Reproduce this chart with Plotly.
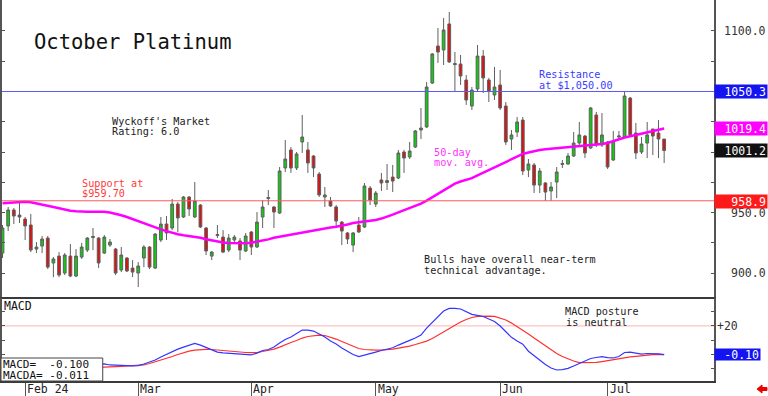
import plotly.graph_objects as go
import pandas as pd

W, H = 768, 396
FONT = "DejaVu Sans Mono"

# ---------------- data ----------------
holidays = ["2024-02-19", "2024-03-29", "2024-05-27", "2024-06-19", "2024-07-04"]
dates = [d.strftime("%Y-%m-%d") for d in pd.bdate_range("2024-01-26", "2024-07-16")
         if d.strftime("%Y-%m-%d") not in holidays]

opens = [916.5, 938.9, 952.1, 947.9, 944.6, 939.7, 919.8, 922.3, 928.9, 908.3,
         914.0, 900.0, 914.0, 897.5, 913.2, 919.0, 929.3, 928.9, 916.5, 923.1,
         919.8, 902.5, 912.4, 904.1, 900.0, 912.4, 921.5, 904.1, 927.3, 940.5,
         937.2, 957.0, 946.3, 962.8, 946.3, 956.2, 937.2, 914.0, 931.0, 929.7,
         919.0, 927.3, 926.5, 918.2, 933.9, 921.5, 946.3, 961.6, 954.6, 949.6,
         986.8, 1001.7, 986.8, 1008.3, 1001.7, 996.7, 981.8, 962.8, 959.5, 954.6,
         942.1, 933.1, 923.1, 939.7, 938.0, 970.2, 957.0, 976.9, 974.8, 979.3,
         978.5, 1000.0, 995.9, 1004.1, 1018.2, 1020.7, 1057.0, 1087.6, 1084.3, 1105.8,
         1073.1, 1072.7, 1059.5, 1038.0, 1052.1, 1079.3, 1059.5, 1047.1, 1055.4, 1038.0,
         1010.7, 1016.5, 1026.4, 985.1, 989.3, 972.7, 974.4, 967.8, 975.2, 989.7,
         990.1, 996.7, 1007.4, 1013.2, 1003.3, 1030.6, 1005.8, 1008.3, 993.4, 1012.4,
         1012.4, 1044.6, 1015.7, 1000.0, 1007.4, 1019.0, 1015.7, 1010.7]

highs = [939.7, 954.6, 953.7, 958.7, 946.3, 948.8, 925.6, 930.6, 930.6, 913.2,
         917.3, 916.5, 924.0, 919.8, 924.8, 929.7, 937.2, 929.7, 931.4, 928.1,
         920.7, 921.5, 913.2, 910.7, 909.1, 923.1, 922.3, 933.1, 946.3, 947.1,
         961.2, 958.7, 963.6, 963.6, 975.2, 957.0, 938.0, 918.2, 939.7, 935.5,
         932.2, 931.4, 928.9, 933.1, 934.7, 950.4, 960.3, 968.6, 955.4, 987.6,
         1009.9, 1004.1, 1000.0, 1030.6, 1008.3, 997.5, 983.5, 971.1, 962.8, 956.2,
         943.0, 933.9, 933.9, 946.3, 974.4, 971.9, 967.8, 982.7, 990.1, 989.3,
         1001.7, 1001.7, 1008.3, 1018.2, 1036.4, 1057.9, 1081.8, 1102.5, 1110.7, 1115.7,
         1082.6, 1080.2, 1063.6, 1053.7, 1088.4, 1084.3, 1061.2, 1070.3, 1067.8, 1041.3,
         1018.2, 1028.9, 1028.9, 994.2, 990.9, 986.8, 975.2, 975.2, 987.6, 993.4,
         999.2, 1016.5, 1024.8, 1014.1, 1037.2, 1033.1, 1032.2, 1009.1, 1017.4, 1017.4,
         1049.6, 1045.5, 1024.0, 1012.4, 1024.8, 1019.0, 1026.4, 1010.7]

lows = [912.4, 934.7, 940.5, 941.3, 927.3, 917.3, 916.5, 916.5, 903.3, 896.6,
        896.6, 898.3, 896.6, 896.6, 911.6, 917.3, 919.0, 904.1, 915.7, 921.5,
        898.3, 900.8, 900.8, 896.6, 888.4, 904.9, 903.3, 903.3, 925.6, 927.3,
        935.5, 933.9, 945.5, 947.1, 945.5, 937.2, 914.9, 910.7, 928.9, 916.5,
        917.3, 925.6, 910.7, 917.3, 914.9, 920.7, 937.2, 956.2, 937.2, 948.8,
        983.5, 982.7, 985.1, 999.2, 982.7, 979.3, 962.8, 954.6, 954.6, 938.0,
        923.1, 924.0, 917.3, 933.1, 937.2, 956.2, 954.6, 967.8, 968.6, 966.9,
        977.7, 982.7, 994.2, 1003.3, 1010.7, 1019.8, 1056.2, 1073.6, 1071.9, 1073.6,
        1050.4, 1055.4, 1038.9, 1034.7, 1049.6, 1048.8, 1041.3, 1043.0, 1034.7, 1005.8,
        1001.7, 1012.4, 981.0, 979.3, 966.1, 966.1, 959.5, 959.5, 962.0, 986.8,
        989.3, 995.9, 1005.8, 995.0, 1002.5, 1004.1, 1004.1, 986.0, 992.6, 1009.9,
        1011.6, 1012.4, 994.2, 998.4, 995.0, 997.5, 995.0, 990.9]

closes = [937.2, 952.1, 947.1, 946.3, 938.9, 919.0, 921.5, 928.1, 904.9, 911.6,
          898.3, 914.9, 897.5, 914.0, 921.5, 928.9, 930.2, 908.3, 929.7, 925.6,
          900.0, 914.9, 901.7, 900.8, 905.8, 921.5, 904.9, 932.2, 940.5, 933.1,
          957.0, 945.5, 962.8, 952.9, 959.5, 938.0, 918.2, 917.3, 931.8, 917.3,
          928.9, 929.7, 919.0, 930.6, 921.5, 942.1, 954.6, 962.4, 950.4, 984.3,
          994.2, 986.8, 998.4, 1012.4, 990.9, 986.8, 964.5, 964.5, 955.4, 943.0,
          934.7, 928.1, 933.1, 933.9, 971.9, 960.3, 966.1, 974.4, 976.4, 976.0,
          999.2, 995.0, 1000.8, 1017.4, 1019.8, 1053.7, 1081.0, 1082.6, 1100.8, 1074.4,
          1072.3, 1062.8, 1043.0, 1051.2, 1079.3, 1061.2, 1050.4, 1053.7, 1036.4, 1008.3,
          1014.1, 1024.8, 984.3, 990.1, 972.7, 984.3, 966.9, 971.1, 983.5, 990.5,
          996.7, 1007.4, 1014.1, 999.2, 1036.4, 1005.8, 1014.1, 987.6, 1009.1, 1013.2,
          1046.3, 1014.1, 999.2, 1006.6, 1014.1, 1013.2, 1010.7, 1001.2]

ma50 = [957.6, 958.0, 958.5, 958.8, 958.9, 958.4, 957.6, 956.6, 955.6, 954.6,
        953.6, 952.5, 951.5, 951.1, 950.7, 950.6, 950.6, 950.7, 950.7, 950.0,
        949.0, 947.8, 946.3, 944.5, 942.8, 941.1, 939.4, 937.8, 936.1, 934.6,
        933.2, 932.0, 931.2, 930.7, 930.1, 929.2, 927.9, 926.9, 926.0, 925.3,
        924.9, 924.6, 924.5, 924.6, 925.1, 925.8, 926.6, 927.8, 929.1, 930.0,
        930.7, 931.3, 932.3, 933.2, 934.1, 935.0, 935.9, 936.9, 937.6, 938.3,
        938.9, 940.1, 941.3, 941.8, 942.3, 943.0, 943.9, 945.0, 946.4, 948.3,
        950.1, 952.0, 953.4, 955.4, 957.4, 959.9, 962.7, 965.6, 968.3, 971.1,
        973.9, 975.6, 977.0, 978.4, 980.6, 982.8, 985.1, 987.4, 989.8, 992.0,
        994.1, 996.3, 998.4, 999.6, 1000.7, 1001.7, 1002.2, 1002.6, 1003.1, 1003.5,
        1003.9, 1004.3, 1004.8, 1005.3, 1005.7, 1006.1, 1006.6, 1007.4, 1009.1, 1010.9,
        1012.0, 1013.1, 1014.1, 1015.2, 1016.5, 1017.6, 1018.6, 1019.4]

macd = [-3.5, -4.0, -4.5, -5.0, -5.5, -6.0, -6.4, -6.8, -7.1, -7.3,
        -7.5, -7.6, -7.6, -7.5, -7.3, -7.1, -6.9, -6.7, -6.6, -7.3,
        -7.3, -7.3, -7.7, -8.0, -7.7, -6.6, -5.2, -3.8, -1.7, 0.3,
        2.1, 3.8, 5.2, 6.6, 7.8, 6.6, 4.9, 3.1, 1.7, 1.2,
        1.0, 0.8, 0.3, 0.0, -0.3, 1.0, 2.8, 3.5, 5.2, 8.0,
        10.5, 12.2, 14.7, 17.1, 17.1, 16.4, 14.3, 12.2, 9.4, 7.3,
        4.5, 2.0, 0.0, -1.5, -0.3, 1.0, 1.7, 2.8, 3.6, 4.7,
        6.6, 8.5, 9.9, 11.5, 13.6, 18.5, 22.7, 26.4, 30.4, 32.2,
        32.3, 31.8, 30.1, 28.1, 27.3, 26.6, 24.8, 23.1, 19.9, 16.0,
        12.0, 9.4, 7.2, 2.3, -0.9, -4.0, -7.0, -9.4, -10.8, -10.5,
        -9.7, -8.0, -6.3, -4.5, -2.8, -2.1, -1.5, -2.1, -2.4, -1.4,
        1.4, 1.7, 1.0, 0.3, 0.7, 0.8, 0.5, -0.1]

macda = [-3.0, -3.4, -3.8, -4.2, -4.6, -5.0, -5.4, -5.8, -6.2, -6.6,
         -7.0, -7.4, -7.8, -8.1, -8.4, -8.7, -8.9, -9.0, -9.0, -8.7,
         -8.5, -8.3, -8.0, -7.8, -7.6, -7.3, -6.3, -5.2, -3.8, -2.8,
         -1.4, 0.0, 1.4, 2.4, 3.1, 3.6, 3.6, 3.5, 3.1, 2.9,
         2.6, 2.1, 1.7, 1.4, 1.3, 1.4, 2.1, 2.9, 3.8, 5.2,
         7.0, 8.4, 9.8, 11.5, 12.6, 13.3, 13.6, 13.3, 12.2, 10.8,
         9.1, 7.3, 5.6, 4.2, 3.5, 3.1, 3.1, 3.1, 3.3, 3.8,
         4.5, 5.0, 5.9, 7.0, 8.0, 9.4, 11.2, 13.6, 16.1, 18.5,
         20.6, 22.7, 24.5, 25.9, 26.6, 26.9, 26.9, 26.6, 25.5, 24.1,
         22.0, 19.6, 17.1, 14.3, 11.5, 8.7, 5.9, 3.1, 0.7, -1.4,
         -3.1, -4.5, -5.6, -5.7, -5.7, -5.5, -4.9, -4.2, -3.5, -2.8,
         -2.2, -1.7, -1.3, -0.8, -0.3, 0.0, 0.1, 0.0]

month_labels = ["Feb 24", "Mar", "Apr", "May", "Jun", "Jul"]
month_starts = ["2024-02-01", "2024-03-01", "2024-04-01", "2024-05-01", "2024-06-03", "2024-07-01"]

price_ticks = [1100, 1050, 1000, 950, 900]
support_level = 959.70
resistance_level = 1050.00
value_labels = [1050.3, 1019.4, 1001.2, 958.9]
value_colors = ["#1414f0", "#ff00ff", "#111111", "#ff1a1a"]
macd_last_label = -0.10
macd_ref_level = 20
macd_value_text = ["MACD=  -0.100", "MACDA= -0.011"]

# ---------------- figure ----------------
idx = list(range(len(dates)))
month_idx = [dates.index(d) for d in month_starts]


def px(x):
    return x / W


def py(y):
    return 1 - y / H


XR = [-0.09, 125.84]
PR = [880.2, 1125.6]
MR = [-18.5, 39.5]
XD = [0, 714 / W]

fig = go.Figure()
fig.add_trace(go.Candlestick(
    x=idx, open=opens, high=highs, low=lows, close=closes, hovertext=dates,
    increasing=dict(fillcolor="#10cc10", line=dict(color="#606060", width=1)),
    decreasing=dict(fillcolor="#dd1111", line=dict(color="#606060", width=1)),
    whiskerwidth=0, xaxis="x", yaxis="y", showlegend=False))
fig.add_trace(go.Scatter(x=idx, y=ma50, mode="lines", line=dict(color="#ff00ff", width=2.5),
                         xaxis="x", yaxis="y", hoverinfo="skip"))
fig.add_trace(go.Scatter(x=idx, y=macda, mode="lines", line=dict(color="#ff3030", width=1.2),
                         xaxis="x2", yaxis="y2"))
fig.add_trace(go.Scatter(x=idx, y=macd, mode="lines", line=dict(color="#3535ff", width=1.2),
                         xaxis="x2", yaxis="y2"))

fig.update_layout(
    width=W, height=H, margin=dict(l=0, r=0, t=0, b=0),
    paper_bgcolor="white", plot_bgcolor="white", showlegend=False,
    font=dict(family=FONT, size=11, color="#222"),
    xaxis=dict(domain=XD, range=XR, anchor="y", showgrid=False, zeroline=False,
               showticklabels=False, ticks="", showline=True, linecolor="#3a3a3a", linewidth=2,
               rangeslider=dict(visible=False)),
    yaxis=dict(domain=[py(297), 1], range=PR, anchor="x", side="right", showgrid=False,
               zeroline=False, showticklabels=False, ticks="inside", ticklen=3, tickcolor="#555",
               tick0=0, dtick=25, showline=True, linecolor="#555", linewidth=1.5, mirror="ticks"),
    xaxis2=dict(domain=XD, range=XR, anchor="y2", showgrid=False, zeroline=False,
                showticklabels=False, tickvals=month_idx, ticks="outside", ticklen=15,
                tickcolor="#555", tickwidth=1, showline=True, linecolor="#3a3a3a", linewidth=2),
    yaxis2=dict(domain=[py(381), py(298)], range=MR, anchor="x2", side="right", showgrid=False,
                zeroline=False, showticklabels=False, ticks="inside", ticklen=3, tickcolor="#555",
                tick0=0, dtick=10, showline=True, linecolor="#555", linewidth=1.5, mirror="ticks"),
)

shapes = [
    dict(type="line", xref="x domain", yref="y", x0=0, x1=1, y0=support_level, y1=support_level,
         line=dict(color="#ff5a5a", width=1)),
    dict(type="line", xref="x domain", yref="y", x0=0, x1=1, y0=resistance_level, y1=resistance_level,
         line=dict(color="#5a5aff", width=1)),
    dict(type="line", xref="x2 domain", yref="y2", x0=0, x1=1, y0=macd_ref_level, y1=macd_ref_level,
         line=dict(color="#ffb4b4", width=1), layer="below"),
    dict(type="rect", xref="paper", yref="paper", x0=px(-1), x1=px(101), y0=py(381), y1=py(358),
         fillcolor="white", line=dict(color="#444", width=1), layer="above"),
    dict(type="path", xref="paper", yref="paper", fillcolor="#ee0000", line=dict(color="#ee0000", width=1),
         path=f"M {px(757)},{py(389)} L {px(762)},{py(385)} L {px(762)},{py(387.5)} L {px(767)},{py(387.5)} "
              f"L {px(767)},{py(390.5)} L {px(762)},{py(390.5)} L {px(762)},{py(393)} Z"),
]
fig.update_layout(shapes=shapes)

ann = []


def txt(x, y, s, size=10.2, color="#222", anchor="left"):
    ann.append(dict(xref="paper", yref="paper", x=px(x), y=py(y), text=s, showarrow=False,
                    xanchor=anchor, yanchor="middle", borderpad=0,
                    font=dict(family=FONT, size=size, color=color)))


txt(31, 42, "October Platinum", size=20.5, color="#111")
txt(109, 121.5, "Wyckoff's Market", color="#222")
txt(109, 132, "Rating: 6.0", color="#222")
txt(79, 183.5, "Support at", color="#ff3a3a")
txt(79, 194, "$959.70", color="#ff3a3a")
txt(537, 74, "Resistance", color="#3a3aff")
txt(537, 85, "at $1,050.00", color="#3a3aff")
txt(432, 152, "50-day", color="#ff33ff")
txt(432, 163, "mov. avg.", color="#ff33ff")
txt(422, 259, "Bulls have overall near-term", color="#222")
txt(422, 270, "technical advantage.", color="#222")
txt(563, 311.5, "MACD posture", color="#222")
txt(564, 322, "is neutral", color="#222")
txt(1, 305.5, "MACD", size=11.5, color="#111")
txt(0, 364, macd_value_text[0], size=11, color="#111")
txt(0, 375, macd_value_text[1], size=11, color="#111")

# right price axis labels
for v in price_ticks:
    ann.append(dict(xref="paper", yref="y", x=px(767), y=v, text=f"{v:.1f}", showarrow=False,
                    xanchor="right", yanchor="middle", borderpad=0,
                    font=dict(family=FONT, size=11.5, color="#333")))
ann.append(dict(xref="paper", yref="y2", x=px(716), y=macd_ref_level, text=f"+{macd_ref_level}",
                showarrow=False, xanchor="left", yanchor="middle", borderpad=0,
                font=dict(family=FONT, size=11.5, color="#333")))

# value boxes
for v, c in zip(value_labels, value_colors):
    ann.append(dict(xref="paper", yref="y", x=px(767.5), y=v, text=f"{v:.1f}", showarrow=False,
                    xanchor="right", yanchor="middle", bgcolor=c, borderpad=1, width=50, height=11,
                    align="right", font=dict(family=FONT, size=11.5, color="white")))
ann.append(dict(xref="paper", yref="y2", x=px(714), y=macd_last_label, text=f"{macd_last_label:.2f}",
                showarrow=False, xanchor="left", yanchor="middle", bgcolor="#1414f0", borderpad=1,
                width=43, height=9, align="right", font=dict(family=FONT, size=11.5, color="white")))

# month labels
for lab, i in zip(month_labels, month_idx):
    ann.append(dict(xref="x2", yref="paper", x=i, y=py(389), text=lab, showarrow=False,
                    xanchor="left", yanchor="middle", xshift=1, borderpad=0,
                    font=dict(family=FONT, size=11.5, color="#222")))

fig.update_layout(annotations=ann)
fig.write_html("out.html", config={"displayModeBar": False},
               post_script="document.body.style.margin='0';document.body.style.padding='0';")
